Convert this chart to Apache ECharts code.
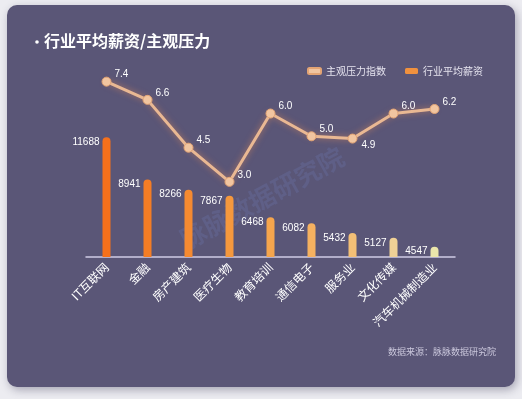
<!DOCTYPE html>
<html>
<head>
<meta charset="utf-8">
<script src="https://cdn.jsdelivr.net/npm/echarts@6/dist/echarts.min.js"></script>
<style>
  html, body { margin: 0; padding: 0; background: #ececf1; }
  #main { width: 522px; height: 399px; }
</style>
</head>
<body>
<div id="main"></div>
<script>
const industries = ['IT互联网', '金融', '房产建筑', '医疗生物', '教育培训', '通信电子', '服务业', '文化传媒', '汽车机械制造业'];
const salary = [11688, 8941, 8266, 7867, 6468, 6082, 5432, 5127, 4547];
const pressure = [7.4, 6.6, 4.5, 3.0, 6.0, 5.0, 4.9, 6.0, 6.2];
const seriesNames = ['主观压力指数', '行业平均薪资'];

const barColors = ['#f5701b', '#f47d25', '#f58a31', '#f5983d', '#f5a54d', '#f5b160', '#f3bf76', '#f0d196', '#ebe6ab'];
const font = '"Noto Sans CJK SC", "Liberation Sans", sans-serif';

const chart = echarts.init(document.getElementById('main'));

const option = {
  backgroundColor: '#ececf1',
  textStyle: { fontFamily: font },
  graphic: [
    {
      type: 'rect', z: -10,
      shape: { x: 7, y: 5, width: 508, height: 382, r: 10 },
      style: { fill: '#5a5677', shadowBlur: 8, shadowOffsetX: 2, shadowOffsetY: 3, shadowColor: 'rgba(40,36,70,0.35)' }
    },
    {
      type: 'circle', z: 5,
      shape: { cx: 37, cy: 42, r: 1.8 },
      style: { fill: '#ffffff' }
    },
    {
      type: 'text', z: -5,
      x: 262, y: 198, rotation: 0.5,
      style: {
        text: '脉脉数据研究院', fontSize: 26, fontWeight: 'bold', fontFamily: font,
        fill: 'rgba(115,135,200,0.2)', align: 'center', verticalAlign: 'middle'
      }
    },
    {
      type: 'text',
      right: 26, top: 347,
      style: { text: '数据来源：脉脉数据研究院', fontSize: 9, fontFamily: font, fill: '#c9c6db' }
    }
  ],
  title: {
    text: '行业平均薪资/主观压力',
    left: 44, top: 33,
    padding: 0,
    textStyle: { color: '#ffffff', fontSize: 16, fontWeight: 'bold', fontFamily: font }
  },
  legend: {
    data: seriesNames,
    right: 34, top: 61,
    icon: 'roundRect',
    itemWidth: 13, itemHeight: 6,
    itemGap: 19,
    textStyle: { color: '#e6e4ef', fontSize: 10, fontFamily: font }
  },
  grid: { left: 86, right: 67, top: 27, bottom: 142 },
  xAxis: {
    type: 'category',
    data: industries,
    axisLine: { onZero: false, lineStyle: { color: '#cfcbe6', width: 1.5 } },
    axisTick: { show: false },
    axisLabel: {
      rotate: 45, color: '#ffffff', fontSize: 12, margin: 8,
      interval: 0, fontFamily: font
    }
  },
  yAxis: [
    { type: 'value', min: 3870, max: 18900, show: false },
    { type: 'value', min: -0.3, max: 9.8, show: false }
  ],
  series: [
    {
      name: seriesNames[1],
      type: 'bar',
      yAxisIndex: 0,
      barWidth: 8,
      z: 2,
      itemStyle: { color: '#f0913e', borderRadius: [4, 4, 0, 0] },
      label: {
        show: true,
        position: [-3, 0],
        align: 'right',
        verticalAlign: 'top',
        color: '#ffffff',
        fontSize: 10,
        fontFamily: '"Liberation Sans", sans-serif'
      },
      data: salary.map((v, i) => ({ value: v, itemStyle: { color: barColors[i] } }))
    },
    {
      name: seriesNames[0],
      type: 'line',
      yAxisIndex: 1,
      z: 3,
      symbol: 'circle',
      symbolSize: 9,
      lineStyle: { color: '#e9b893', width: 3, shadowColor: 'rgba(255,150,80,0.55)', shadowBlur: 6 },
      itemStyle: { color: '#f1c5a0', borderColor: '#e3a474', borderWidth: 1 },
      label: {
        show: true,
        position: 'right',
        distance: 3,
        offset: [0, -7],
        color: '#ffffff',
        fontSize: 10,
        fontFamily: '"Liberation Sans", sans-serif',
        formatter: p => p.value.toFixed(1)
      },
      data: pressure.map((v, i) => i === 6 ? { value: v, label: { offset: [1, 7] } } : v)
    }
  ]
};

chart.setOption(option);
</script>
</body>
</html>
